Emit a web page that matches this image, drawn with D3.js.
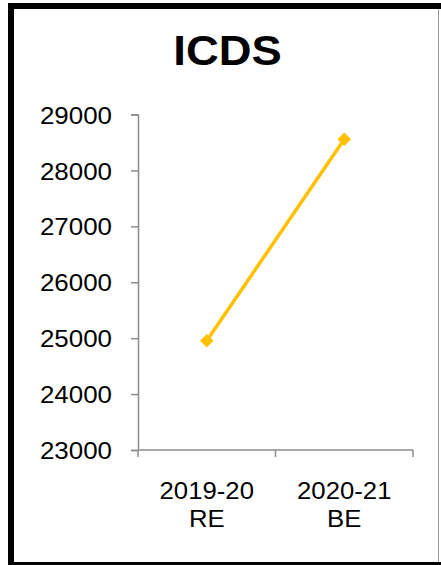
<!DOCTYPE html>
<html>
<head>
<meta charset="utf-8">
<script src="https://cdn.jsdelivr.net/npm/d3@7"></script>
<style>
  body { margin: 0; background: #fff; }
  svg { display: block; font-family: "Liberation Sans", Arial, sans-serif; }
</style>
</head>
<body>
<div id="chart"></div>
<script>
// data
var categories = ["2019-20\nRE", "2020-21\nBE"]
var values = [24955, 28557]
var yTicks = [23000, 24000, 25000, 26000, 27000, 28000, 29000]
var title = "ICDS"

var width = 441, height = 565
//the original picture is a bit stretched sideways
var stretch = 1.08

const svg = d3.select("#chart").append("svg")
    .attr("width", width)
    .attr("height", height)

// outer frame
svg.append("rect").attr("x", 0).attr("y", 0).attr("width", width).attr("height", height).attr("fill", "#fff")
svg.append("rect").attr("x", 8).attr("y", 3).attr("width", 6).attr("height", height - 3).attr("fill", "#000")
svg.append("rect").attr("x", 8).attr("y", 3).attr("width", width - 8).attr("height", 6).attr("fill", "#000")
svg.append("rect").attr("x", 8).attr("y", 562).attr("width", width - 8).attr("height", 3).attr("fill", "#000")
svg.append("line").attr("x1", 438.5).attr("x2", 438.5).attr("y1", 9).attr("y2", 562)
    .attr("stroke", "#9a9a9a").attr("stroke-width", 1)

// title
svg.append("text")
    .attr("transform", "translate(227.5,65) scale(" + stretch + ",1)")
    .attr("text-anchor", "middle")
    .style("font-size", "42px").style("font-weight", "bold")
    .text(title)

// scales
var x = d3.scaleBand().domain(categories).range([138, 413])
var y = d3.scaleLinear().domain([23000, 29000]).range([450, 114.5])

var axisColor = "#8c8c8c"

// y axis
var yAxis = svg.append("g")
    .attr("transform", "translate(138,0)")
    .call(d3.axisLeft(y).tickValues(yTicks).tickSize(7).tickFormat(d3.format("d")))
yAxis.select(".domain").attr("stroke", axisColor).attr("stroke-width", 1.5)
yAxis.selectAll(".tick line").attr("stroke", axisColor).attr("stroke-width", 1.5)
yAxis.selectAll(".tick text")
    .attr("x", null).attr("dy", null)
    .attr("transform", "translate(-26,8.6) scale(" + stretch + ",1)")
    .attr("fill", "#000")
    .style("font-size", "24px")
    .style("font-family", "Liberation Sans, Arial, sans-serif")

// x axis
var xAxisG = svg.append("g").attr("transform", "translate(0,450)")
xAxisG.append("line")
    .attr("x1", x.range()[0]).attr("x2", x.range()[1])
    .attr("stroke", axisColor).attr("stroke-width", 1.5)
var bounds = categories.map(d => x(d)).concat([x.range()[1]])
xAxisG.selectAll(".xt").data(bounds).enter().append("line")
    .attr("x1", d => d).attr("x2", d => d)
    .attr("y1", 0).attr("y2", 7)
    .attr("stroke", axisColor).attr("stroke-width", 1.5)

var labels = xAxisG.selectAll(".xl").data(categories).enter().append("text")
    .attr("text-anchor", "middle")
    .attr("transform", d => "translate(" + (x(d) + x.bandwidth() / 2) + ",0) scale(1.05,1)")
    .style("font-size", "24.5px")
labels.selectAll("tspan").data(d => d.split("\n")).enter().append("tspan")
    .attr("x", 0)
    .attr("y", (d, i) => 49.3 + i * 27.4)
    .text(d => d)

// line
var line = d3.line()
    .x((d, i) => x(categories[i]) + x.bandwidth() / 2)
    .y(d => y(d))

svg.append("path")
    .datum(values)
    .attr("d", line)
    .attr("fill", "none")
    .attr("stroke", "#FFC000")
    .attr("stroke-width", 3.5)

svg.selectAll(".pt").data(values).enter().append("path")
    .attr("d", d3.symbol().type(d3.symbolDiamond2).size(115))
    .attr("transform", (d, i) => "translate(" + (x(categories[i]) + x.bandwidth() / 2) + "," + y(d) + ")")
    .attr("fill", "#FFC000")
</script>
</body>
</html>
